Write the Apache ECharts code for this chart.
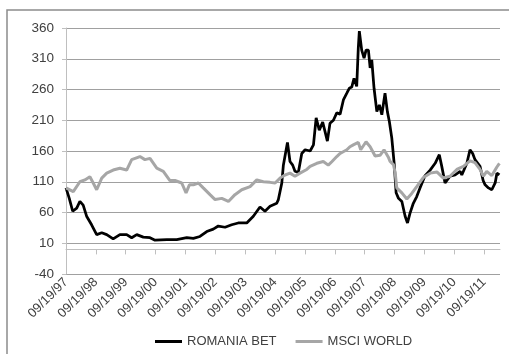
<!DOCTYPE html>
<html>
<head>
<meta charset="utf-8">
<style>
  html, body { margin: 0; padding: 0; background: #fff; }
  #chart { width: 509px; height: 354px; }
</style>
<script src="https://cdn.jsdelivr.net/npm/echarts@6/dist/echarts.min.js"></script>
</head>
<body>
<div id="chart"></div>
<script>
// Both indices rebased to 100 on 19 Sep 1997.
const tickLabels = ['09/19/97', '09/19/98', '09/19/99', '09/19/00', '09/19/01', '09/19/02', '09/19/03',
  '09/19/04', '09/19/05', '09/19/06', '09/19/07', '09/19/08', '09/19/09', '09/19/10', '09/19/11'];

const betDates = [
  '1997-09-19', '1997-10-29', '1997-12-10', '1998-01-28', '1998-03-08', '1998-04-17', '1998-05-29',
  '1998-07-29', '1998-09-29', '1998-11-30', '1999-01-30', '1999-04-19', '1999-07-10', '1999-10-01',
  '1999-12-01', '2000-02-01', '2000-04-21', '2000-07-12', '2000-09-12', '2001-02-03', '2001-06-04',
  '2001-10-05', '2001-12-24', '2002-03-15', '2002-06-06', '2002-08-25', '2002-10-25', '2003-01-16',
  '2003-04-07', '2003-06-26', '2003-10-08', '2003-12-28', '2004-03-18', '2004-05-18', '2004-07-19',
  '2004-10-09', '2004-10-29', '2004-12-10', '2004-12-29', '2005-02-17', '2005-03-20', '2005-04-22',
  '2005-05-20', '2005-06-30', '2005-08-11', '2005-09-21', '2005-11-21', '2006-01-01', '2006-02-03',
  '2006-03-13', '2006-04-24', '2006-05-22', '2006-06-20', '2006-07-22', '2006-09-02', '2006-10-13',
  '2006-11-23', '2007-01-02', '2007-02-13', '2007-03-15', '2007-04-14', '2007-05-12', '2007-06-14',
  '2007-07-03', '2007-07-16', '2007-08-14', '2007-09-12', '2007-10-06', '2007-11-04', '2007-11-25',
  '2007-12-15', '2008-01-12', '2008-02-15', '2008-03-17', '2008-04-16', '2008-05-25', '2008-06-23',
  '2008-07-17', '2008-08-16', '2008-09-14', '2008-10-08', '2008-11-06', '2008-12-17', '2009-01-26',
  '2009-02-24', '2009-03-27', '2009-05-06', '2009-06-17', '2009-07-27', '2009-08-21', '2009-09-27',
  '2009-11-28', '2010-01-28', '2010-03-20', '2010-04-19', '2010-05-29', '2010-07-29', '2010-09-29',
  '2010-11-29', '2010-12-20', '2011-02-20', '2011-03-30', '2011-05-02', '2011-05-30', '2011-07-31',
  '2011-09-07', '2011-10-01', '2011-11-11', '2011-12-22', '2012-02-01', '2012-02-22', '2012-03-24'
];
const betValues = [
  100, 83, 62, 67, 78, 72, 54,
  40, 24, 27, 24, 17, 24, 24,
  19, 24, 20, 19, 15, 16, 16,
  19, 18, 21, 29, 33, 38, 36,
  40, 43, 43, 54, 69, 62, 70,
  75, 81, 108, 137, 174, 143, 137,
  127, 125, 156, 162, 160, 170, 214,
  194, 207, 192, 176, 205, 210, 222,
  220, 243, 254, 262, 264, 278, 265,
  327, 355, 324, 311, 324, 324, 295,
  308, 262, 224, 235, 219, 254, 224,
  208, 181, 140, 92, 83, 78, 54,
  43, 59, 75, 86, 100, 108, 120,
  129, 140, 154, 135, 108, 119, 121,
  127, 121, 140, 162, 156, 146, 135,
  112, 105, 100, 97, 108, 124, 121
];

const msciDates = [
  '1997-09-19', '1997-12-17', '1998-03-08', '1998-05-08', '1998-07-08', '1998-08-18', '1998-09-29',
  '1998-11-30', '1999-01-30', '1999-04-19', '1999-07-10', '1999-10-01', '1999-12-01', '2000-03-11',
  '2000-05-11', '2000-07-12', '2000-10-03', '2000-12-22', '2001-03-13', '2001-05-13', '2001-08-04',
  '2001-09-26', '2001-11-06', '2001-12-24', '2002-02-24', '2002-04-24', '2002-07-16', '2002-09-16',
  '2002-12-07', '2003-02-26', '2003-05-17', '2003-08-08', '2003-11-18', '2004-02-08', '2004-04-28',
  '2004-07-19', '2004-09-19', '2004-11-19', '2005-01-19', '2005-03-20', '2005-05-20', '2005-07-20',
  '2005-10-11', '2005-11-21', '2006-02-11', '2006-05-01', '2006-07-01', '2006-08-16', '2006-10-13',
  '2006-11-23', '2007-02-13', '2007-03-23', '2007-05-03', '2007-07-03', '2007-08-02', '2007-10-06',
  '2007-11-25', '2008-01-25', '2008-03-25', '2008-05-13', '2008-07-05', '2008-07-26', '2008-09-05',
  '2008-09-26', '2008-10-16', '2008-12-17', '2009-02-16', '2009-04-17', '2009-06-17', '2009-09-07',
  '2009-11-28', '2010-02-18', '2010-05-08', '2010-07-29', '2010-10-20', '2011-01-09', '2011-03-30',
  '2011-05-30', '2011-07-31', '2011-09-10', '2011-10-21', '2011-12-22', '2012-02-22', '2012-03-24'
];
const msciValues = [
  100, 94, 110, 113, 118, 108, 97,
  116, 124, 129, 132, 129, 146, 151,
  146, 148, 132, 127, 112, 112, 108,
  92, 105, 105, 108, 100, 89, 81,
  83, 78, 89, 97, 102, 113, 110,
  109, 108, 116, 121, 124, 119, 124,
  130, 135, 140, 143, 137, 143, 151,
  156, 162, 167, 170, 174, 162, 175,
  167, 152, 153, 162, 150, 143, 138,
  125, 100, 92, 82, 91, 102, 117,
  124, 126, 116, 119, 130, 135, 144,
  141, 130, 119, 127, 120, 134, 140
];

const START_MS = Date.parse('1997-09-19');
const YEAR_MS = 365.25 * 86400000;
const toYears = d => (Date.parse(d) - START_MS) / YEAR_MS;
const pairs = (dates, vals) => dates.map((d, i) => [toYears(d), vals[i]]);

const FONT = "'Liberation Sans Narrow', 'Arial Narrow', 'Liberation Sans', sans-serif";
const X_MAX = 14.53;
const yearTicks = tickLabels.map((_, i) => i);

const chart = echarts.init(document.getElementById('chart'), null, { renderer: 'canvas' });
chart.setOption({
  animation: false,
  backgroundColor: '#ffffff',
  textStyle: { fontFamily: FONT },
  graphic: [{
    type: 'rect',
    shape: { x: 7, y: 10, width: 540, height: 380 },
    style: { fill: 'none', stroke: '#8c8c8c', lineWidth: 1.5 },
    silent: true
  }],
  grid: { left: 66, right: 9, top: 28, bottom: 80 },
  legend: {
    left: 150, top: 330,
    icon: 'rect', itemWidth: 27, itemHeight: 3, itemGap: 19,
    textStyle: { fontFamily: FONT, fontSize: 13, color: '#404040' },
    data: ['ROMANIA BET', 'MSCI WORLD']
  },
  xAxis: [{
    type: 'value', position: 'bottom', min: 0, max: X_MAX, interval: 1,
    axisLine: { onZero: true, lineStyle: { color: '#bfbfbf', width: 1 } },
    axisTick: { show: true, length: 5, customValues: yearTicks, lineStyle: { color: '#bfbfbf' } },
    axisLabel: { show: false },
    splitLine: { show: false }
  }, {
    type: 'value', position: 'bottom', min: 0, max: X_MAX, interval: 1,
    axisLine: { show: false, onZero: false },
    axisTick: { show: false },
    axisLabel: {
      rotate: 45, margin: 6, fontSize: 13, color: '#404040', fontFamily: FONT,
      customValues: yearTicks,
      formatter: v => tickLabels[Math.round(v)]
    },
    splitLine: { show: false }
  }],
  yAxis: {
    type: 'value', min: -40, max: 360, interval: 50,
    axisLine: { show: true, lineStyle: { color: '#bfbfbf' } },
    axisTick: { show: true, length: 4, lineStyle: { color: '#bfbfbf' } },
    axisLabel: { margin: 12, fontSize: 13.5, color: '#404040', fontFamily: FONT },
    splitLine: { lineStyle: { color: '#a0a0a0', width: 1 } }
  },
  series: [{
    name: 'ROMANIA BET', type: 'line', xAxisIndex: 0,
    data: pairs(betDates, betValues),
    showSymbol: false, symbol: 'none',
    lineStyle: { color: '#000000', width: 2.75 },
    itemStyle: { color: '#000000' }
  }, {
    name: 'MSCI WORLD', type: 'line', xAxisIndex: 0,
    data: pairs(msciDates, msciValues),
    showSymbol: false, symbol: 'none',
    lineStyle: { color: '#a6a6a6', width: 3 },
    itemStyle: { color: '#a6a6a6' }
  }]
});
</script>
</body>
</html>
